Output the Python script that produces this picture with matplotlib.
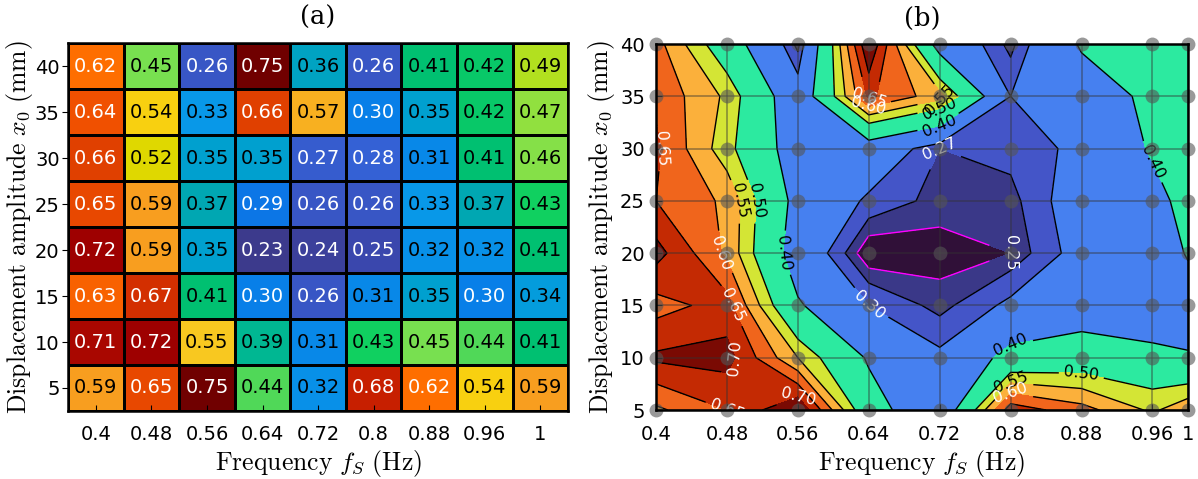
import numpy as np
import matplotlib
matplotlib.use("Agg")
import matplotlib.pyplot as plt
from matplotlib.colors import LinearSegmentedColormap

freqs = [0.4, 0.48, 0.56, 0.64, 0.72, 0.8, 0.88, 0.96, 1.0]
freq_labels = ["0.4", "0.48", "0.56", "0.64", "0.72", "0.8", "0.88", "0.96", "1"]
amps = [5, 10, 15, 20, 25, 30, 35, 40]

# rows ordered from amplitude 5 (bottom) to 40 (top)
row_5 = [0.59, 0.65, 0.75, 0.44, 0.32, 0.68, 0.62, 0.54, 0.59]
row_10 = [0.71, 0.72, 0.55, 0.39, 0.31, 0.43, 0.45, 0.44, 0.41]
row_15 = [0.63, 0.67, 0.41, 0.30, 0.26, 0.31, 0.35, 0.30, 0.34]
row_20 = [0.72, 0.59, 0.35, 0.23, 0.24, 0.25, 0.32, 0.32, 0.41]
row_25 = [0.65, 0.59, 0.37, 0.29, 0.26, 0.26, 0.33, 0.37, 0.43]
row_30 = [0.66, 0.52, 0.35, 0.35, 0.27, 0.28, 0.31, 0.41, 0.46]
row_35 = [0.64, 0.54, 0.33, 0.66, 0.57, 0.30, 0.35, 0.42, 0.47]
row_40 = [0.62, 0.45, 0.26, 0.75, 0.36, 0.26, 0.41, 0.42, 0.49]

contour_levels = [0.25, 0.27, 0.30, 0.40, 0.50, 0.55, 0.60, 0.65, 0.70]

Z = np.array([row_5, row_10, row_15, row_20, row_25, row_30, row_35, row_40])

# custom colormap for panel (a)
anchors = [
    (0.23, "#3c3a8c"), (0.25, "#3a48b0"), (0.26, "#3858c8"), (0.28, "#3462d6"),
    (0.29, "#0878e8"), (0.31, "#0888e8"), (0.33, "#0898e8"), (0.35, "#00a0d0"),
    (0.37, "#00a8b0"), (0.39, "#00b890"), (0.41, "#00c070"), (0.43, "#10d060"),
    (0.44, "#50d858"), (0.45, "#78e050"), (0.47, "#90e040"), (0.49, "#b0e020"),
    (0.52, "#e0d800"), (0.54, "#f8d010"), (0.55, "#f8c820"), (0.57, "#f8b020"),
    (0.59, "#f8a020"), (0.62, "#ff7000"), (0.64, "#f05000"), (0.66, "#e04000"),
    (0.68, "#c82000"), (0.72, "#a00000"), (0.75, "#700000"),
]
vmin, vmax = anchors[0][0], anchors[-1][0]
cmap_a = LinearSegmentedColormap.from_list(
    "custom", [((v - vmin) / (vmax - vmin), c) for v, c in anchors])

# band colours for panel (b)
band_colors = ["#301038", "#3a3888", "#4455c8", "#4680f0", "#2ceaa0",
               "#d4e535", "#fbb03b", "#f0651c", "#c42a03", "#7a0a03"]

plt.rcParams["mathtext.fontset"] = "cm"
plt.rcParams["font.family"] = ["DejaVu Sans"]

fig = plt.figure(figsize=(11.98, 4.79), dpi=100)
ax1 = fig.add_axes([0.0568, 0.142, 0.4174, 0.768])
ax2 = fig.add_axes([0.5476, 0.144, 0.444, 0.764])

LABEL_FS = 18.5
TICK_FS = 14

# ---- panel (a)
nx, ny = len(freqs), len(amps)
ax1.pcolormesh(np.arange(nx + 1) - 0.5, np.arange(ny + 1) - 0.5, Z,
               cmap=cmap_a, vmin=vmin, vmax=vmax,
               edgecolors="black", linewidth=1.8)
for j in range(ny):
    for i in range(nx):
        v = Z[j, i]
        col = "white" if (v <= 0.30 or v >= 0.60) else "black"
        ax1.text(i, j, f"{v:.2f}", ha="center", va="center", fontsize=14, color=col)
ax1.set_xlim(-0.5, nx - 0.5)
ax1.set_ylim(-0.5, ny - 0.5)
ax1.set_xticks(range(nx))
ax1.set_xticklabels(freq_labels)
ax1.set_yticks(range(ny))
ax1.set_yticklabels([str(a) for a in amps])
ax1.tick_params(axis="x", direction="in", length=4, pad=10, labelsize=TICK_FS)
ax1.tick_params(axis="y", direction="out", length=4, pad=2, labelsize=TICK_FS)
for s in ax1.spines.values():
    s.set_linewidth(1.8)
ax1.set_title("(a)", fontsize=LABEL_FS, family="serif", pad=13)
ax1.set_xlabel(r"$\mathrm{Frequency}\ f_S\ \mathrm{(Hz)}$", fontsize=LABEL_FS, labelpad=3)
ax1.set_ylabel(r"$\mathrm{Displacement\ amplitude}\ x_0\ \mathrm{(mm)}$", fontsize=LABEL_FS, labelpad=0)

# ---- panel (b)
X, Y = np.meshgrid(freqs, amps)
fill_levels = [0.2] + contour_levels + [0.76]
ax2.contourf(X, Y, Z, levels=fill_levels, colors=band_colors)
line_cols = ["magenta"] + ["black"] * (len(contour_levels) - 1)
cs = ax2.contour(X, Y, Z, levels=contour_levels, colors=line_cols, linewidths=1.0)
lab_cols = ["white", "white", "white", "black", "black", "black", "white", "white", "white"]
ax2.clabel(cs, inline=True, fontsize=11.5, fmt="%.2f", colors=lab_cols)
ax2.grid(True, color="#333333", alpha=0.45, linewidth=1.3)
ax2.set_axisbelow(False)
ax2.plot(X.ravel(), Y.ravel(), "o", color="#555555", alpha=0.6, markersize=10,
         markeredgewidth=0, clip_on=False, zorder=5)
ax2.set_xlim(0.4, 1.0)
ax2.set_ylim(5, 40)
ax2.set_xticks(freqs)
ax2.set_xticklabels(freq_labels)
ax2.set_yticks(amps)
ax2.tick_params(axis="x", direction="in", length=4, labelsize=TICK_FS, pad=11)
ax2.tick_params(axis="y", direction="in", length=4, labelsize=TICK_FS, pad=8)
for s in ax2.spines.values():
    s.set_linewidth(1.8)
    s.set_zorder(6)
ax2.set_title("(b)", fontsize=LABEL_FS, family="serif", pad=13)
ax2.set_xlabel(r"$\mathrm{Frequency}\ f_S\ \mathrm{(Hz)}$", fontsize=LABEL_FS, labelpad=3)
ax2.set_ylabel(r"$\mathrm{Displacement\ amplitude}\ x_0\ \mathrm{(mm)}$", fontsize=LABEL_FS, labelpad=2)

fig.savefig("out.png", dpi=100)
